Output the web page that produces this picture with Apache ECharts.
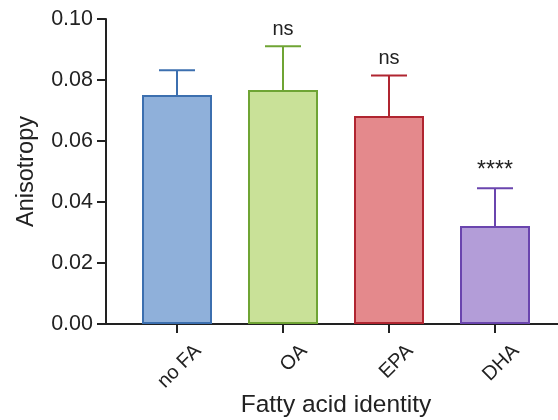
<!DOCTYPE html>
<html>
<head>
<meta charset="utf-8">
<script src="https://cdn.jsdelivr.net/npm/echarts@6/dist/echarts.min.js"></script>
<style>html,body{margin:0;padding:0;background:#fff}#c{width:558px;height:420px}</style>
</head>
<body>
<div id="c"></div>
<script>
var categories = ["no FA", "OA", "EPA", "DHA"];
var means = [0.0751, 0.0767, 0.0682, 0.0321];
var upper = [0.0832, 0.0911, 0.0815, 0.0445];
var sigLabels = ["", "ns", "ns", "****"];
var yTicks = [0, 0.02, 0.04, 0.06, 0.08, 0.10];
var fills = ["#8FB0DA", "#C9E198", "#E4898C", "#B39DD8"];
var strokes = ["#3C6FAF", "#6FA434", "#B02530", "#6A45AE"];

var FONT = "Liberation Sans, Arial, Helvetica, sans-serif";
var chart = echarts.init(document.getElementById('c'), null, {renderer: 'canvas'});

var errData = categories.map(function (c, i) { return [i, means[i], upper[i], sigLabels[i]]; });

chart.setOption({
  animation: false,
  backgroundColor: '#fff',
  grid: [
    {left: 124, right: 10, top: 19, bottom: 96, containLabel: false, outerBoundsMode: 'none'},
    {left: 106, right: 0, top: 19, bottom: 96, containLabel: false, outerBoundsMode: 'none'}
  ],
  xAxis: [
    {
      type: 'category', gridIndex: 0, data: categories,
      axisLine: {show: false},
      axisTick: {show: true, alignWithLabel: true, length: 9, lineStyle: {color: '#222', width: 2}},
      axisLabel: {show: false},
      name: 'Fatty acid identity', nameLocation: 'middle', nameGap: 69,
      nameTextStyle: {fontSize: 24.5, color: '#222', fontFamily: FONT}
    },
    {
      type: 'value', gridIndex: 1, min: 0, max: 1,
      axisLine: {show: true, onZero: false, lineStyle: {color: '#222', width: 2}},
      axisTick: {show: false}, axisLabel: {show: false}, splitLine: {show: false}
    }
  ],
  yAxis: [
    {
      type: 'value', gridIndex: 0, min: yTicks[0], max: yTicks[yTicks.length - 1], interval: 0.02,
      offset: 18,
      axisLine: {show: true, lineStyle: {color: '#222', width: 2}},
      axisTick: {show: true, length: 9, lineStyle: {color: '#222', width: 2}},
      axisLabel: {fontSize: 21.5, color: '#222', fontFamily: FONT, margin: 13,
        formatter: function (v) { return v.toFixed(2); }},
      splitLine: {show: false},
      name: 'Anisotropy', nameLocation: 'middle', nameGap: 67,
      nameTextStyle: {fontSize: 23.5, color: '#222', fontFamily: FONT}
    },
    {
      type: 'value', gridIndex: 1, min: 0, max: 1, show: false
    }
  ],
  series: [
    {
      type: 'bar', xAxisIndex: 0, yAxisIndex: 0, barWidth: 70,
      data: means.map(function (v, i) {
        return {value: v, itemStyle: {color: fills[i], borderColor: strokes[i], borderWidth: 2}};
      }),
      z: 2
    },
    {
      type: 'custom', xAxisIndex: 0, yAxisIndex: 0, z: 3, clip: false,
      data: errData,
      renderItem: function (params, api) {
        var i = api.value(0);
        var top = api.coord([i, api.value(2)]);
        var base = api.coord([i, api.value(1)]);
        var zero = api.coord([i, 0]);
        var half = 18;
        var col = strokes[params.dataIndex];
        var children = [
          {type: 'line', shape: {x1: top[0], y1: top[1], x2: base[0], y2: base[1]}, style: {stroke: col, lineWidth: 2}},
          {type: 'line', shape: {x1: top[0] - half, y1: top[1], x2: top[0] + half, y2: top[1]}, style: {stroke: col, lineWidth: 2}},
          {
            type: 'text', x: zero[0] + 21, y: zero[1] + 24, rotation: Math.PI / 4,
            style: {
              text: categories[params.dataIndex], x: 0, y: 0,
              textAlign: 'right', textVerticalAlign: 'middle',
              fontSize: 20, fontFamily: FONT, fill: '#222'
            }
          }
        ];
        var lbl = sigLabels[params.dataIndex];
        if (lbl) {
          var isStar = lbl.indexOf('*') >= 0;
          children.push({
            type: 'text',
            style: {
              text: lbl, x: top[0], y: top[1] - (isStar ? 6 : 7),
              textAlign: 'center', textVerticalAlign: 'bottom',
              fontSize: isStar ? 23 : 20, fontFamily: FONT, fill: '#222'
            }
          });
        }
        return {type: 'group', children: children};
      }
    }
  ]
});
</script>
</body>
</html>
